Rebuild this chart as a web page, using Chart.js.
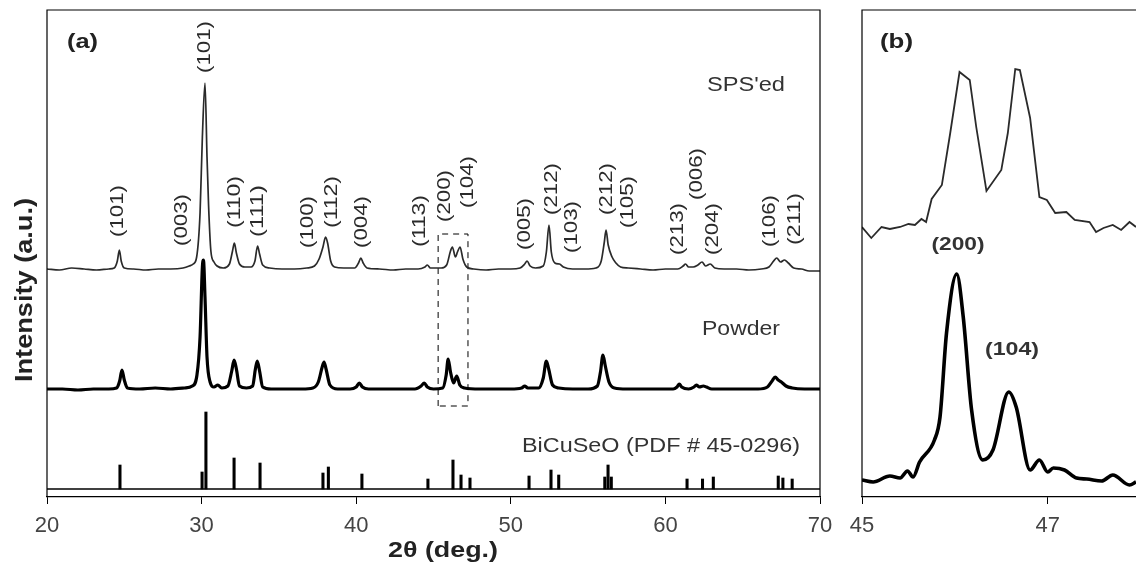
<!DOCTYPE html>
<html><head><meta charset="utf-8">
<script src="https://cdn.jsdelivr.net/npm/chart.js@4.4.0/dist/chart.umd.min.js"></script>
<style>
html,body{margin:0;padding:0;background:#fff;overflow:hidden}
#wrap{position:relative;width:1136px;height:568px;background:#fff}
canvas{position:absolute;top:0}
#ca{left:0}
#cb{left:830px}
</style></head>
<body><div id="wrap"><canvas id="ca" width="846" height="568"></canvas><canvas id="cb" width="306" height="568"></canvas></div>
<script>
// ---------- DATA (2θ in degrees, intensity in arbitrary offset units) ----------
const ticksA = [20, 30, 40, 50, 60, 70];
const ticksB = [45, 47];

// Panel (a): SPS'ed pattern
const spsA = [[20.0,228],[20.8,227],[21.6,229],[22.4,228],[23.2,227],[24.0,228],[24.35,229],[24.55,236],[24.68,247],[24.8,236],[25.0,229],[25.6,228],[26.4,227],[27.2,228],[28.0,228],[28.8,229],[29.2,231],[29.46,233],[29.68,240],[29.9,284],[30.05,360],[30.22,414],[30.35,340],[30.45,292],[30.6,246],[30.8,235],[31.0,231],[31.4,229],[31.8,233],[32.0,246],[32.12,254],[32.25,244],[32.45,233],[32.8,230],[33.2,230],[33.45,236],[33.62,251],[33.75,243],[33.95,232],[34.4,229],[35.2,228],[36.0,228],[36.8,229],[37.3,231],[37.6,238],[37.85,250],[38.02,260],[38.15,254],[38.35,236],[38.6,230],[39.2,229],[39.9,229],[40.15,234],[40.3,239],[40.45,234],[40.7,229],[41.5,228],[42.4,227],[43.2,228],[44.0,228],[44.45,230],[44.6,232],[44.8,229],[45.5,229],[45.85,232],[46.1,246],[46.22,250],[46.42,240],[46.55,245],[46.72,250],[46.9,238],[47.15,230],[47.6,228],[48.4,227],[49.2,228],[50.0,228],[50.6,229],[50.9,233],[51.05,236],[51.25,231],[51.6,229],[52.1,231],[52.3,245],[52.47,272],[52.62,245],[52.85,234],[53.15,233],[53.4,230],[54.0,228],[54.8,228],[55.5,229],[55.85,236],[56.05,255],[56.16,267],[56.3,252],[56.55,240],[56.8,234],[57.1,230],[57.6,229],[58.4,228],[59.2,227],[60.0,228],[60.8,228],[61.15,231],[61.3,233],[61.5,230],[61.8,230],[62.1,232],[62.37,235],[62.6,231],[62.9,233],[63.2,229],[63.8,228],[64.6,228],[65.4,227],[66.2,228],[66.7,230],[67.0,236],[67.2,239],[67.45,235],[67.7,237],[67.95,234],[68.3,229],[68.8,228],[69.3,226],[70.0,226]];

// Panel (a): Powder pattern
const powderA = [[20.0,108],[21.0,108],[22.0,107],[23.0,108],[24.0,108],[24.5,109],[24.7,116],[24.85,127],[25.0,117],[25.2,109],[26.0,108],[27.0,109],[28.0,108],[28.9,109],[29.4,111],[29.7,122],[29.9,160],[30.05,230],[30.12,237],[30.22,200],[30.35,140],[30.55,115],[30.8,110],[31.05,112],[31.3,109],[31.7,111],[31.95,126],[32.1,137],[32.25,128],[32.45,111],[32.9,109],[33.3,111],[33.48,128],[33.6,136],[33.75,126],[33.95,110],[34.5,108],[35.5,108],[36.5,108],[37.2,109],[37.55,115],[37.8,130],[37.92,135],[38.05,128],[38.3,112],[38.8,108],[39.6,108],[40.0,110],[40.2,114],[40.4,110],[40.8,108],[41.8,108],[42.8,108],[43.8,108],[44.2,111],[44.4,114],[44.6,110],[45.0,108],[45.6,109],[45.82,122],[45.95,138],[46.1,125],[46.3,114],[46.5,121],[46.7,112],[47.0,109],[48.0,108],[49.0,108],[50.0,108],[50.7,109],[50.9,111],[51.1,109],[51.8,109],[52.1,119],[52.3,136],[52.45,128],[52.7,112],[53.1,109],[54.0,108],[55.0,108],[55.6,111],[55.8,125],[55.96,142],[56.1,132],[56.35,115],[56.7,109],[57.5,108],[58.5,108],[59.5,108],[60.5,108],[60.75,110],[60.9,113],[61.05,110],[61.5,108],[61.85,110],[62.0,112],[62.2,110],[62.45,111],[62.65,110],[63.0,108],[64.0,108],[65.0,108],[66.0,108],[66.6,110],[66.9,116],[67.1,120],[67.3,117],[67.5,115],[67.8,111],[68.2,109],[69.0,108],[70.0,108]];

// Panel (a): reference pattern BiCuSeO (PDF # 45-0296)
const refBase = 8;
const refTheta = [24.72,30.03,30.28,32.10,33.78,37.85,38.20,40.37,44.64,46.26,46.78,47.36,51.18,52.60,53.10,56.08,56.29,56.50,61.40,62.40,63.10,67.30,67.60,68.20];
const refInt   = [24,17,77,31,26,16,22,15,10,29,14,11,13,19,14,12,24,12,10,10,12,13,11,10];

// Panel (a): hkl labels
const hklText  = ['(101)','(003)','(101)','(110)','(111)','(100)','(112)','(004)','(113)','(200)','(104)','(005)','(212)','(103)','(212)','(105)','(213)','(006)','(204)','(106)','(211)'];
const hklTheta = [24.59,28.73,30.22,32.16,33.65,36.88,38.43,40.38,44.13,45.74,47.23,50.92,52.67,53.96,56.22,57.58,60.82,62.04,63.08,66.77,68.38];
const hklBase  = [260,251,424,269,260,249,269,249,250,275,289,247,282,244,282,269,242,297,242,250,252];

// Dashed zoom box (2θ range, intensity range)
const boxTheta = [45.3, 47.23];
const boxInt = [91, 263];

// Panel (b): SPS'ed and Powder detail
const spsB = [[45.0,270],[45.10,259],[45.21,270],[45.30,268],[45.41,270],[45.50,273],[45.57,272],[45.64,278],[45.69,275],[45.75,298],[45.86,312],[45.95,364],[46.05,425],[46.16,417],[46.23,370],[46.34,306],[46.50,327],[46.57,364],[46.65,428],[46.70,427],[46.81,379],[46.91,300],[46.99,297],[47.08,284],[47.20,285],[47.29,277],[47.45,275],[47.52,265],[47.60,269],[47.70,272],[47.79,267],[47.88,275],[47.95,270]];
const powderB = [[45.0,17],[45.12,15],[45.30,21],[45.41,19],[45.49,26],[45.55,20],[45.62,35],[45.78,57],[45.84,80],[45.91,164],[46.02,223],[46.09,180],[46.18,87],[46.30,37],[46.41,47],[46.58,105],[46.66,90],[46.81,27],[46.91,37],[47.00,25],[47.06,29],[47.18,27],[47.31,19],[47.42,18],[47.58,16],[47.70,22],[47.88,12],[47.95,15]];

// ---------- HELPERS ----------
Chart.defaults.font.family = "'Liberation Sans', Arial, sans-serif";
const toPts = arr => arr.map(p => ({x: p[0], y: p[1]}));

function fitText(ctx, text, cx, cy, len, font, color, rotated) {
  ctx.save();
  ctx.font = font; ctx.fillStyle = color;
  ctx.textAlign = 'center'; ctx.textBaseline = 'middle';
  ctx.translate(cx, cy);
  if (rotated) ctx.rotate(-Math.PI / 2);
  const w = ctx.measureText(text).width;
  ctx.scale(len / w, 1);
  ctx.fillText(text, 0, 0);
  ctx.restore();
}

const framePlugin = (withRight) => ({
  id: 'frame',
  afterDraw(c) {
    const {ctx, chartArea: a} = c;
    ctx.save();
    ctx.strokeStyle = '#000'; ctx.lineWidth = 1.2;
    ctx.beginPath();
    ctx.moveTo(a.left, a.bottom); ctx.lineTo(a.left, a.top);
    ctx.lineTo(withRight ? a.right : c.width, a.top);
    if (withRight) ctx.lineTo(a.right, a.bottom);
    ctx.stroke();
    ctx.restore();
  }
});

const xScale = (min, max, ticks) => ({
  type: 'linear', min, max, offset: false,
  afterBuildTicks: s => { s.ticks = ticks.map(v => ({value: v})); },
  afterFit: s => { s.height = 71; },
  grid: {drawOnChartArea: false, drawTicks: true, tickLength: 7, color: '#000', lineWidth: 1, offset: false},
  border: {display: true, color: '#000', width: 1.2},
  ticks: {font: {size: 22}, color: '#444', padding: 9, maxRotation: 0, autoSkip: false}
});

// ---------- PANEL (a) ----------
const textA = {
  id: 'textA',
  afterDraw(c) {
    const ctx = c.ctx, xs = c.scales.x, ys = c.scales.y;
    fitText(ctx, '(a)', 82.5, 42, 31, 'bold 21px "Liberation Sans", Arial', '#222', false);
    hklText.forEach((t, i) => {
      const px = xs.getPixelForValue(hklTheta[i]);
      const pb = ys.getPixelForValue(hklBase[i]);
      fitText(ctx, t, px, pb - 26, 52, '19px "Liberation Sans", Arial', '#2a2a2a', true);
    });
    fitText(ctx, "SPS'ed", 746, 85, 78, '20px "Liberation Sans", Arial', '#333', false);
    fitText(ctx, 'Powder', 741, 329, 78, '20px "Liberation Sans", Arial', '#333', false);
    fitText(ctx, 'BiCuSeO (PDF # 45-0296)', 661, 446, 278, '20px "Liberation Sans", Arial', '#333', false);
    fitText(ctx, 'Intensity (a.u.)', 25, 290, 184, 'bold 24px "Liberation Sans", Arial', '#222', true);
    fitText(ctx, '2θ (deg.)', 443, 551, 110, 'bold 22px "Liberation Sans", Arial', '#222', false);
  }
};

new Chart(document.getElementById('ca'), {
  type: 'line',
  data: {
    datasets: [
      {label: "SPS'ed", data: toPts(spsA), borderColor: '#2a2a2a', borderWidth: 1.7, pointRadius: 0, cubicInterpolationMode: 'monotone', fill: false},
      {label: 'Powder', data: toPts(powderA), borderColor: '#000', borderWidth: 3.2, pointRadius: 0, cubicInterpolationMode: 'monotone', fill: false},
      {label: 'Reference base', data: [{x: ticksA[0], y: refBase}, {x: ticksA[ticksA.length - 1], y: refBase}], borderColor: '#000', borderWidth: 1.3, pointRadius: 0, fill: false},
      {type: 'bar', label: 'BiCuSeO (PDF # 45-0296)', data: refTheta.map((t, i) => ({x: t, y: [refBase, refBase + refInt[i]]})), backgroundColor: '#000', borderWidth: 0, barThickness: 2.4, grouped: false},
      {label: 'Zoom box', data: [{x: boxTheta[0], y: boxInt[0]}, {x: boxTheta[0], y: boxInt[1]}, {x: boxTheta[1], y: boxInt[1]}, {x: boxTheta[1], y: boxInt[0]}, {x: boxTheta[0], y: boxInt[0]}], borderColor: '#000', borderWidth: 1, borderDash: [6, 5], pointRadius: 0, tension: 0, fill: false}
    ]
  },
  options: {
    responsive: false, animation: false, devicePixelRatio: 1,
    layout: {padding: {left: 47, top: 10, right: 26, bottom: 0}},
    plugins: {legend: {display: false}, tooltip: {enabled: false}},
    scales: {
      x: xScale(20, 70, ticksA),
      y: {display: false, min: 0, max: 487}
    }
  },
  plugins: [framePlugin(true), textA]
});

// ---------- PANEL (b) ----------
const textB = {
  id: 'textB',
  afterDraw(c) {
    const ctx = c.ctx;
    fitText(ctx, '(b)', 66.5, 42, 33, 'bold 21px "Liberation Sans", Arial', '#222', false);
    fitText(ctx, '(200)', 128, 245, 53, 'bold 19px "Liberation Sans", Arial', '#333', false);
    fitText(ctx, '(104)', 182, 350, 54, 'bold 19px "Liberation Sans", Arial', '#333', false);
  }
};

new Chart(document.getElementById('cb'), {
  type: 'line',
  data: {
    datasets: [
      {label: "SPS'ed", data: toPts(spsB), borderColor: '#2a2a2a', borderWidth: 1.8, pointRadius: 0, tension: 0, fill: false},
      {label: 'Powder', data: toPts(powderB), borderColor: '#000', borderWidth: 3.6, pointRadius: 0, cubicInterpolationMode: 'monotone', fill: false}
    ]
  },
  options: {
    responsive: false, animation: false, devicePixelRatio: 1,
    layout: {padding: {left: 32, top: 10, right: 0, bottom: 0}},
    plugins: {legend: {display: false}, tooltip: {enabled: false}},
    scales: {
      x: xScale(45, 47.95, ticksB),
      y: {display: false, min: 0, max: 487}
    }
  },
  plugins: [framePlugin(false), textB]
});
</script>
</body></html>
